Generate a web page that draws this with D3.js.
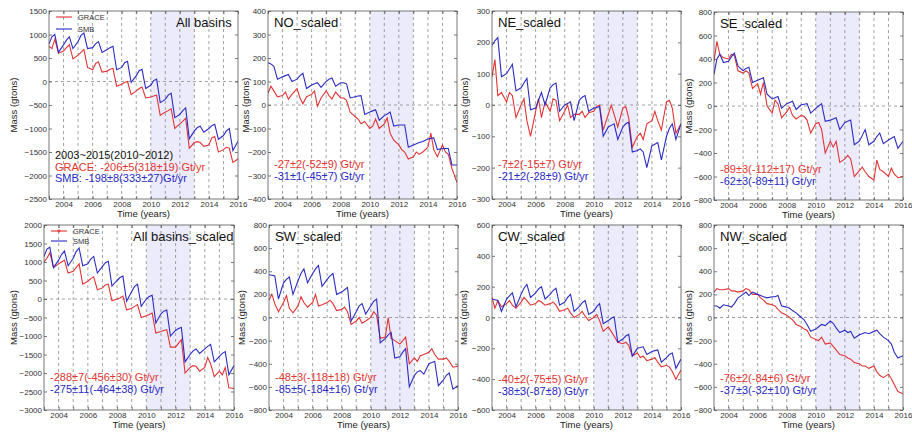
<!DOCTYPE html>
<html>
<head>
<meta charset="utf-8">
<style>
body { margin: 0; background: #fff; }
svg { font-family: "Liberation Sans", Arial, sans-serif; }
</style>
</head>
<body>
<script src="https://d3js.org/d3.v7.min.js"></script>
<svg width="912" height="434"></svg>
<script>
// sample times (4 per year: Jan, Mar, May, Aug)
var times = [2003, 2003.2, 2003.4, 2003.65, 2004, 2004.2, 2004.4, 2004.65,
  2005, 2005.2, 2005.4, 2005.65, 2006, 2006.2, 2006.4, 2006.65,
  2007, 2007.2, 2007.4, 2007.65, 2008, 2008.2, 2008.4, 2008.65,
  2009, 2009.2, 2009.4, 2009.65, 2010, 2010.2, 2010.4, 2010.65,
  2011, 2011.2, 2011.4, 2011.65, 2012, 2012.2, 2012.4, 2012.65,
  2013, 2013.2, 2013.4, 2013.65, 2014, 2014.2, 2014.4, 2014.65,
  2015, 2015.2, 2015.4, 2015.65, 2016];

var years = [2003, 2004, 2005, 2006, 2007, 2008, 2009, 2010, 2011, 2012, 2013, 2014, 2015, 2016];
var yearLabels = ["", "2004", "", "2006", "", "2008", "", "2010", "", "2012", "", "2014", "", "2016"];
var shade = [2010, 2013];

var allGrace = [750,700,900,600, 650,720,780,480, 560,620,680,300, 250,380,420,200, 220,260,280,-100,
  -60,-20,0,-280, -200,-150,-120,-350, -330,-310,-290,-720, -650,-620,-580,-1000, -900,-850,-780,-1420,
  -1300,-1280,-1300,-1380, -1350,-1200,-1170,-1500, -1450,-1400,-1420,-1720, -1650];
var allSmb = [800,950,1000,620, 780,880,950,700, 850,980,1030,700, 720,800,850,620, 680,720,750,250,
  300,400,430,-20, 120,230,260,-150, -80,20,50,-450, -380,-290,-250,-770, -700,-620,-560,-1220,
  -1050,-980,-950,-1080, -1000,-940,-910,-1230, -1150,-1050,-1000,-1470, -1270];

var noGrace = [50,80,60,35, 40,55,25,45, 70,30,5,35, 45,60,-5,30, 60,40,25,55,
  30,30,20,-30, -50,-60,-80,-70, -100,-90,-60,-100, -80,-55,-120,-150, -170,-190,-200,-230,
  -220,-200,-210,-200, -180,-120,-190,-220, -170,-200,-210,-270, -330];
var noSmb = [180,175,165,110, 120,125,130,100, 110,125,135,70, 85,90,95,75, 100,110,115,80,
  95,95,90,30, 35,38,40,-40, -30,-25,-20,-65, -45,-38,-30,-90, -85,-85,-85,-180,
  -170,-165,-160,-155, -145,-142,-140,-190, -185,-185,-185,-255, -255];

var neGrace = [90,145,30,40, 10,40,30,-40, 0,20,-50,-100, -20,20,-40,10, -20,20,15,-50,
  -20,0,-40,-30, -30,-20,-40,-25, -20,-5,0,-80, -30,0,-30,-70, -10,-5,-40,-135,
  -100,-90,-110,-60, -50,-20,-50,-80, 10,15,-10,-90, -60];
var neSmb = [190,205,215,90, 100,115,130,45, 55,70,85,-15, -10,15,40,0, 55,65,70,-20,
  0,5,10,-50, 15,25,30,-20, -10,-8,-5,-100, -70,-65,-60,-110, -70,-60,-55,-150,
  -145,-140,-150,-200, -130,-125,-120,-175, -100,-75,-60,-110, -60];

var seGrace = [380,550,440,410, 400,440,430,300, 280,300,280,150, 190,100,200,0, -60,50,20,-100,
  -50,-10,-80,-110, -80,-90,-120,-230, -150,-140,-200,-400, -300,-350,-300,-480, -450,-420,-450,-600,
  -550,-520,-560,-600, -630,-460,-540,-560, -600,-530,-580,-610, -600];
var seSmb = [270,400,440,370, 380,420,450,340, 300,320,330,200, 220,230,240,100, 60,70,80,-20,
  20,30,40,-30, 10,15,20,-60, -20,0,20,-130, -120,-110,-100,-200, -140,-130,-120,-330,
  -300,-250,-200,-330, -300,-260,-230,-320, -290,-275,-260,-360, -300];

var allScGrace = [1000,1100,1250,850, 950,1000,1050,700, 750,850,950,400, 480,550,600,250, 300,380,400,-50,
  0,30,80,-300, -250,-200,-150,-500, -450,-420,-380,-920, -880,-850,-830,-1300, -1300,-1200,-1100,-2000,
  -1850,-1800,-1820,-1950, -1850,-1580,-1750,-2100, -1950,-2050,-1850,-2400, -2420];
var allScSmb = [1150,1350,1400,850, 1050,1200,1300,900, 1100,1280,1380,900, 950,1080,1150,700, 880,980,1020,350,
  500,580,620,-60, 200,340,400,-200, 0,70,100,-650, -400,-330,-300,-1000, -850,-800,-770,-1700,
  -1500,-1400,-1350,-1470, -1350,-1280,-1230,-1700, -1550,-1470,-1420,-2050, -1800];

var swGrace = [150,200,120,50, 130,190,80,40, 100,180,130,90, 130,200,100,110, 130,150,120,60,
  70,90,50,-60, -30,0,-50,-30, 0,50,20,-180, -170,0,-180,-200, -230,-200,-170,-400,
  -350,-380,-330,-320, -300,-270,-320,-360, -360,-350,-380,-430, -420];
var swSmb = [370,365,360,160, 300,330,350,200, 320,380,420,300, 380,420,450,270, 330,360,380,200,
  220,240,260,-30, 50,100,120,30, 100,140,160,-220, -180,-150,-130,-350, -340,-300,-270,-600,
  -500,-470,-460,-490, -400,-390,-380,-590, -540,-500,-480,-620, -590];

var cwGrace = [130,60,110,70, 90,110,80,60, 100,130,110,80, 90,110,100,80, 90,100,80,40,
  50,60,30,0, 20,40,10,-20, 0,20,-20,-90, -60,-90,-120,-160, -170,-160,-180,-250,
  -230,-260,-250,-280, -270,-260,-290,-320, -310,-320,-350,-400, -340];
var cwSmb = [120,115,110,40, 120,140,160,70, 150,190,215,130, 160,185,200,120, 150,175,190,80,
  100,130,150,40, 70,95,110,20, 40,70,90,-40, -20,-5,5,-160, -140,-120,-110,-250,
  -200,-195,-190,-240, -220,-215,-210,-290, -260,-240,-230,-330, -270];

var nwGrace = [220,250,240,240, 250,230,230,220, 230,250,240,200, 200,170,150,120, 110,100,70,40,
  20,0,-20,-60, -80,-100,-110,-170, -190,-200,-170,-230, -220,-250,-280,-320, -330,-350,-360,-390,
  -400,-420,-420,-440, -420,-470,-500,-520, -490,-530,-580,-640, -660];
var nwSmb = [100,100,80,110, 100,90,120,170, 200,220,190,220, 200,190,180,170, 180,180,190,100,
  90,80,60,40, 0,-20,-60,-120, -100,-80,-60,-70, -30,-50,-90,-130, -110,-130,-120,-180,
  -150,-140,-130,-140, -120,-110,-140,-170, -200,-230,-300,-350, -330];

var ticksAll = [-2500, -2000, -1500, -1000, -500, 0, 500, 1000, 1500];
var ticksAllSc = [-3000, -2500, -2000, -1500, -1000, -500, 0, 500, 1000, 1500, 2000];
var ticks400 = [-400, -300, -200, -100, 0, 100, 200, 300, 400];
var ticks300 = [-300, -200, -100, 0, 100, 200, 300];
var ticks600 = [-600, -400, -200, 0, 200, 400, 600];
var ticks800 = [-800, -600, -400, -200, 0, 200, 400, 600, 800];

var RED = "#e23434", BLUE = "#2b2bc4";

var panels = [
  {title: "All basins", grace: allGrace, smb: allSmb, ticks: ticksAll, x: 49, y: 11, w: 189, h: 188, lab: 32,
   titleX: 176, legend: true, noteY: 148,
   notes: [["2003~2015(2010~2012)", "#111"], ["GRACE: -206±5(318±19) Gt/yr", RED], ["SMB: -198±8(333±27)Gt/yr", BLUE]]},
  {title: "NO_scaled", grace: noGrace, smb: noSmb, ticks: ticks400, x: 268, y: 11, w: 189, h: 188, lab: 19, noteY: 157,
   notes: [["-27±2(-52±9) Gt/yr", RED], ["-31±1(-45±7) Gt/yr", BLUE]]},
  {title: "NE_scaled", grace: neGrace, smb: neSmb, ticks: ticks300, x: 492, y: 11, w: 189, h: 188, lab: 24, noteY: 157,
   notes: [["-7±2(-15±7) Gt/yr", RED], ["-21±2(-28±9) Gt/yr", BLUE]]},
  {title: "SE_scaled", grace: seGrace, smb: seSmb, ticks: ticks800, x: 714, y: 12, w: 189, h: 188, lab: 22, noteY: 161,
   notes: [["-89±3(-112±17) Gt/yr", RED], ["-62±3(-89±11) Gt/yr", BLUE]]},
  {title: "All basins_scaled", grace: allScGrace, smb: allScSmb, ticks: ticksAllSc, x: 44, y: 225, w: 190, h: 185, lab: 27,
   titleX: 133, legend: true, marker: true, noteY: 156,
   notes: [["-288±7(-456±30) Gt/yr", RED], ["-275±11(-464±38) Gt/yr", BLUE]]},
  {title: "SW_scaled", grace: swGrace, smb: swSmb, ticks: ticks800, x: 269, y: 225, w: 189, h: 185, lab: 24, noteY: 156,
   notes: [["-48±3(-118±18) Gt/yr", RED], ["-85±5(-184±16) Gt/yr", BLUE]]},
  {title: "CW_scaled", grace: cwGrace, smb: cwSmb, ticks: ticks600, x: 492, y: 225, w: 189, h: 185, lab: 25, noteY: 158,
   notes: [["-40±2(-75±5) Gt/yr", RED], ["-38±3(-87±8) Gt/yr", BLUE]]},
  {title: "NW_scaled", grace: nwGrace, smb: nwSmb, ticks: ticks800, x: 714, y: 225, w: 189, h: 185, lab: 22, noteY: 157,
   notes: [["-76±2(-84±6) Gt/yr", RED], ["-37±3(-32±10) Gt/yr", BLUE]]}
];

var svg = d3.select("svg");

panels.forEach(function(p, i) {
  var g = svg.append("g").attr("transform", "translate(" + p.x + "," + p.y + ")");
  var x = d3.scaleLinear().domain([2003, 2016]).range([0, p.w]);
  var y = d3.scaleLinear().domain(d3.extent(p.ticks)).range([p.h, 0]);

  g.append("clipPath").attr("id", "c" + i)
    .append("rect").attr("width", p.w).attr("height", p.h);

  g.append("rect")
    .attr("x", x(shade[0])).attr("width", x(shade[1]) - x(shade[0]))
    .attr("y", 0).attr("height", p.h)
    .attr("fill", "#ebebfb");

  g.selectAll(".vg").data(years.slice(1, -1)).enter().append("line")
    .attr("x1", d => x(d)).attr("x2", d => x(d))
    .attr("y1", 0).attr("y2", p.h)
    .attr("stroke", "#8a8a8a").attr("stroke-width", 0.8).attr("stroke-dasharray", "3,3");
  g.append("line")
    .attr("x1", 0).attr("x2", p.w).attr("y1", y(0)).attr("y2", y(0))
    .attr("stroke", "#8a8a8a").attr("stroke-width", 0.8).attr("stroke-dasharray", "3,3");

  var line = d3.line().x((d, j) => x(times[j])).y(d => y(d));
  var lines = g.append("g").attr("clip-path", "url(#c" + i + ")");
  lines.append("path").attr("d", line(p.grace)).attr("fill", "none")
    .attr("stroke", RED).attr("stroke-width", 1.1);
  lines.append("path").attr("d", line(p.smb)).attr("fill", "none")
    .attr("stroke", BLUE).attr("stroke-width", 1.1);

  // axes, MATLAB-style inward ticks
  var yl = g.append("g").call(d3.axisLeft(y).tickValues(p.ticks).tickSizeInner(-3).tickSizeOuter(0)
    .tickPadding(2).tickFormat(d3.format("d")));
  var yr = g.append("g").attr("transform", "translate(" + p.w + ",0)")
    .call(d3.axisRight(y).tickValues(p.ticks).tickSizeInner(-3).tickSizeOuter(0).tickFormat(""));
  var xb = g.append("g").attr("transform", "translate(0," + p.h + ")")
    .call(d3.axisBottom(x).tickValues(years).tickSizeInner(-3).tickSizeOuter(0).tickPadding(2)
      .tickFormat((d, j) => yearLabels[j]));
  var xt = g.append("g")
    .call(d3.axisTop(x).tickValues(years).tickSizeInner(-3).tickSizeOuter(0).tickFormat(""));
  [yl, yr, xb, xt].forEach(function(a) {
    a.select(".domain").remove();
    a.selectAll("line").attr("stroke", "#444").attr("stroke-width", 0.7);
    a.selectAll("text").attr("fill", "#333").style("font-size", "8px");
  });

  g.append("rect").attr("width", p.w).attr("height", p.h)
    .attr("fill", "none").attr("stroke", "#555").attr("stroke-width", 0.8);

  g.append("text").attr("x", p.w / 2).attr("y", p.h + 17.5)
    .attr("text-anchor", "middle").style("font-size", "9.5px").attr("fill", "#222")
    .text("Time (years)");
  g.append("text")
    .attr("transform", "translate(" + (-p.lab) + "," + (p.h / 2) + ") rotate(-90)")
    .attr("text-anchor", "middle").style("font-size", "9.5px").attr("fill", "#222")
    .text("Mass (gtons)");

  g.append("text")
    .attr("x", p.titleX ? p.titleX - p.x : 6).attr("y", 15.5)
    .style("font-size", "13px").attr("fill", "#111")
    .text(p.title);

  p.notes.forEach(function(n, k) {
    g.append("text").attr("x", 6).attr("y", p.noteY + k * 11.5)
      .style("font-size", "11px").attr("fill", n[1]).text(n[0]);
  });

  if (p.legend) {
    var lg = g.append("g").attr("transform", "translate(7,6)");
    [["GRACE", RED], ["SMB", BLUE]].forEach(function(e, k) {
      var ly = k * (i === 0 ? 12 : 10);
      lg.append("line").attr("x1", 0).attr("x2", 16).attr("y1", ly).attr("y2", ly)
        .attr("stroke", e[1]).attr("stroke-width", 1.1);
      if (p.marker && k === 0) {
        lg.append("path").attr("d", "M6,0H10M8,-2V2").attr("transform", "translate(0," + ly + ")")
          .attr("stroke", e[1]).attr("stroke-width", 0.8);
      }
      lg.append("text").attr("x", 22).attr("y", ly + 2.5)
        .style("font-size", "7.5px").attr("fill", "#333").text(e[0]);
    });
  }
});
</script>
</body>
</html>
